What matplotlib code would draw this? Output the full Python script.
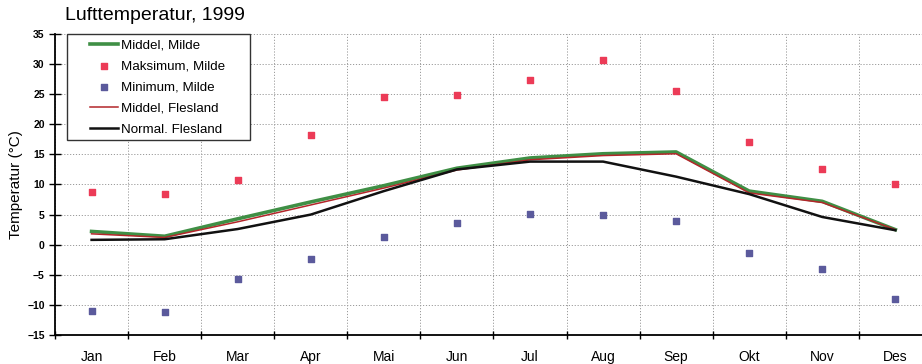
import matplotlib
matplotlib.use("Agg")
import matplotlib.pyplot as plt
from matplotlib.patches import Rectangle
import numpy as np

plt.rcParams["font.family"] = ["Liberation Sans", "DejaVu Sans"]

months = ["Jan", "Feb", "Mar", "Apr", "Mai", "Jun",
          "Jul", "Aug", "Sep", "Okt", "Nov", "Des"]

middel_milde = [2.2, 1.4, 4.3, 7.1, 9.8, 12.7, 14.4, 15.1, 15.4, 8.9, 7.2, 2.5]
middel_flesland = [1.8, 1.2, 3.8, 6.6, 9.4, 12.4, 14.1, 14.8, 15.1, 8.6, 7.0, 2.5]
normal_flesland = [0.8, 0.9, 2.6, 5.0, 8.9, 12.5, 13.8, 13.8, 11.3, 8.4, 4.6, 2.4]
maks_milde = [8.7, 8.4, 10.7, 18.3, 24.6, 24.8, 27.4, 30.7, 25.6, 17.0, 12.6, 10.1]
min_milde = [-11.0, -11.2, -5.7, -2.3, 1.3, 3.6, 5.1, 4.9, 3.9, -1.3, -4.0, -9.0]

x = np.arange(len(months)) + 0.5

fig = plt.figure(figsize=(9.22, 3.64), dpi=100)
ax = fig.add_axes([0.0597, 0.0797, 0.951, 0.827])

ax.plot(x, middel_milde, color="#3f8f45", lw=2.6, label="Middel, Milde", zorder=3)
ax.scatter(x, maks_milde, marker="s", s=22, color="#ec3b57",
           label="Maksimum, Milde", zorder=4)
ax.scatter(x, min_milde, marker="s", s=22, color="#5b5a9c",
           label="Minimum, Milde", zorder=4)
ax.plot(x, middel_flesland, color="#b3262a", lw=1.1, label="Middel, Flesland", zorder=3)
ax.plot(x, normal_flesland, color="#111111", lw=1.8, label="Normal. Flesland", zorder=3)

ax.set_xlim(0, 12)
ax.set_ylim(-15, 35)
ax.set_yticks(range(-15, 36, 5))
ax.set_xticks(range(0, 13))
ax.set_xticklabels([])
ax.set_xticks(x, minor=True)
ax.set_xticklabels(months, minor=True, fontsize=10)
ax.tick_params(axis="x", which="minor", length=0, pad=11)
ax.tick_params(axis="x", which="major", direction="inout", length=6, width=1)
ax.tick_params(axis="y", direction="inout", length=8, width=1, labelsize=7.5)
for lbl in ax.get_yticklabels():
    lbl.set_fontweight("bold")

ax.grid(True, which="major", color="#9a9a9a", ls=(0, (1.2, 1.8)), lw=0.7)
ax.set_axisbelow(True)
for side in ("top", "right"):
    ax.spines[side].set_visible(False)
ax.spines["left"].set_linewidth(1.3)
ax.spines["bottom"].set_linewidth(1.3)

ax.set_ylabel("Temperatur (°C)", fontsize=11, labelpad=3)
fig.text(0.070, 0.935, "Lufttemperatur, 1999", fontsize=14, ha="left", va="bottom")

# legend box drawn by hand so the entries sit with wide side margins
box = Rectangle((0.0727, 0.615), 0.1985, 0.291, transform=fig.transFigure,
                facecolor="white", edgecolor="#333333", lw=1.0,
                zorder=5, clip_on=False)
ax.add_patch(box)
leg = ax.legend(loc="upper left", bbox_to_anchor=(0.0976, 0.893),
                bbox_transform=fig.transFigure, fontsize=9.6, frameon=False,
                handlelength=2.1, handletextpad=0.2, borderpad=0.0,
                borderaxespad=0.0, labelspacing=0.66, markerscale=0.8)
leg.set_zorder(6)

fig.savefig("out.png", dpi=100)
